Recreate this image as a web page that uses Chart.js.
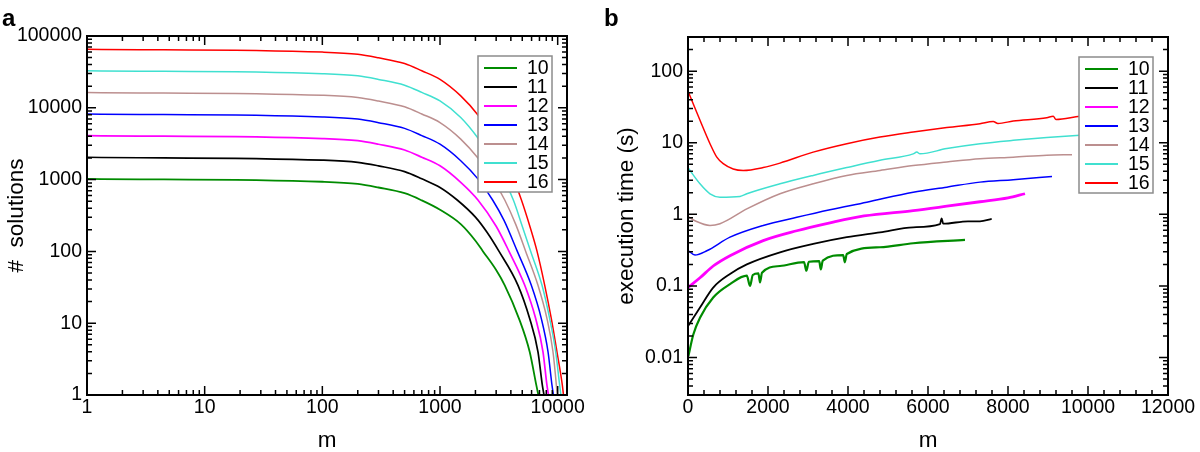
<!DOCTYPE html>
<html>
<head>
<meta charset="utf-8">
<script src="https://cdn.jsdelivr.net/npm/chart.js@4.4.1/dist/chart.umd.min.js"></script>
<style>
html,body{margin:0;padding:0;background:#fff;}
#wrap{position:relative;width:1200px;height:452px;overflow:hidden;}
.pane{position:absolute;top:0;width:600px;height:452px;}
canvas{display:block;}
</style>
</head>
<body>
<div id="wrap">
  <div class="pane" style="left:0"><canvas id="chartA" width="600" height="452"></canvas></div>
  <div class="pane" style="left:600px"><canvas id="chartB" width="600" height="452"></canvas></div>
</div>
<script>
// ---------- series labels & colours ----------
const seriesLabels = ['10', '11', '12', '13', '14', '15', '16'];
const seriesColors = ['#008b00', '#000000', '#ff00ff', '#0000ff', '#bc8f8f', '#40e0d0', '#ff0000'];

// ---------- panel a : number of solutions vs m ----------
const solM10 = [1, 100, 200, 300, 500, 700, 1000, 1500, 2000, 2320, 3000, 3550, 4690, 5780, 6590, 6850];
const solN10 = [1024, 933, 871, 776, 646, 513, 380, 240, 141, 100, 55, 33.7, 11.6, 4, 1.36, 1];
const solM11 = [1, 100, 200, 300, 500, 700, 1000, 1400, 2000, 2500, 3175, 4600, 5780, 6800, 7410, 7650];
const solN11 = [2048, 1867, 1742, 1553, 1291, 1026, 778, 520, 300, 186, 100, 33.7, 11.6, 4, 1.36, 1];
const solM12 = [1, 100, 200, 300, 500, 700, 1000, 1500, 2100, 3000, 3860, 5250, 6500, 7500, 8110, 8350];
const solN12 = [4096, 3733, 3484, 3105, 2582, 2051, 1556, 916, 520, 224, 100, 33.7, 11.6, 4, 1.36, 1];
const solM13 = [1, 100, 200, 300, 500, 700, 1000, 1500, 2100, 2800, 3500, 4540, 5970, 7260, 8280, 8950, 9200];
const solN13 = [8192, 7464, 6966, 6209, 5164, 4102, 3111, 1832, 1023, 520, 270, 100, 33.7, 11.6, 4, 1.36, 1];
const solM14 = [1, 100, 200, 300, 500, 700, 1000, 1500, 2100, 2800, 3550, 4400, 5350, 6800, 8110, 9120, 9750, 9900];
const solN14 = [16384, 14930, 13930, 12420, 10330, 8200, 6220, 3664, 1995, 1023, 520, 238, 100, 33.7, 11.6, 4, 1.36, 1];
const solM15 = [1, 100, 200, 300, 500, 700, 1000, 1500, 2100, 3000, 4200, 5000, 5900, 7360, 8550, 9620, 10400, 10650];
const solN15 = [32768, 29850, 27860, 24830, 20650, 16400, 12450, 7330, 3800, 1585, 520, 224, 100, 33.7, 11.6, 4, 1.36, 1];
const solM16 = [1, 100, 200, 300, 500, 700, 1000, 1500, 2100, 3000, 4000, 4920, 5800, 6680, 7760, 8830, 9860, 10960, 11200];
const solN16 = [65536, 59700, 55700, 49660, 41300, 32800, 24900, 14660, 7943, 3311, 1259, 520, 224, 100, 33.7, 11.6, 4, 1.36, 1];

const solXTicks = [1, 10, 100, 1000, 10000];
const solYTicks = [1, 10, 100, 1000, 10000, 100000];

// ---------- panel b : execution time vs m ----------
const timeM10 = [10, 133, 300, 630, 1050, 1470, 1550, 1620, 1760, 1800, 1850, 2300, 2900, 2960, 3020, 3280, 3320, 3370, 3880, 3920, 3970, 4800, 5630, 6925];
const timeT10 = [0.0105, 0.021, 0.036, 0.069, 0.106, 0.139, 0.10, 0.142, 0.15, 0.112, 0.153, 0.19, 0.215, 0.163, 0.218, 0.222, 0.17, 0.226, 0.27, 0.214, 0.28, 0.347, 0.395, 0.44];
const timeM11 = [10, 300, 630, 1050, 1470, 2300, 3130, 3970, 4800, 5630, 6300, 6340, 6380, 7000, 7300, 7592];
const timeT11 = [0.028, 0.05, 0.095, 0.147, 0.2, 0.295, 0.386, 0.48, 0.56, 0.66, 0.73, 0.88, 0.74, 0.8, 0.8, 0.865];
const timeM12 = [10, 300, 630, 1050, 1880, 2720, 3550, 4400, 5630, 6470, 7300, 8000, 8425];
const timeT12 = [0.096, 0.13, 0.19, 0.265, 0.43, 0.59, 0.76, 0.95, 1.13, 1.3, 1.5, 1.7, 1.94];
const timeM13 = [10, 175, 470, 1050, 1880, 2720, 3550, 4470, 5630, 6470, 7300, 8130, 9100];
const timeT13 = [0.31, 0.27, 0.31, 0.48, 0.70, 0.91, 1.16, 1.48, 2.04, 2.4, 2.82, 3.04, 3.39];
const timeM14 = [10, 200, 550, 800, 1470, 2300, 3130, 3970, 4800, 5630, 6470, 7300, 8130, 8970, 9600];
const timeT14 = [0.93, 0.8, 0.70, 0.74, 1.19, 1.94, 2.67, 3.5, 4.1, 4.8, 5.4, 6.0, 6.3, 6.7, 6.8];
const timeM15 = [10, 300, 550, 800, 1300, 1470, 2300, 3130, 3970, 4800, 5630, 5720, 5800, 6470, 7300, 8130, 8970, 9800, 10400];
const timeT15 = [4.4, 2.67, 1.94, 1.74, 1.78, 1.94, 2.67, 3.5, 4.5, 5.7, 7.0, 7.4, 7.0, 8.3, 9.7, 10.8, 11.8, 12.7, 13.3];
const timeM16 = [10, 300, 550, 720, 880, 1130, 1380, 1880, 2300, 3130, 3970, 4800, 5630, 6470, 7300, 7630, 7750, 8130, 8970, 9130, 9200, 9800, 10500, 11000];
const timeT16 = [51, 20.6, 9.7, 6.3, 5.1, 4.3, 4.1, 4.5, 5.2, 7.4, 9.7, 12, 14.1, 16.3, 18.5, 19.8, 18.6, 20.1, 22.4, 23.5, 21.2, 23.5, 25, 26];

const timeXTicks = [0, 2000, 4000, 6000, 8000, 10000, 12000];
const timeYTicks = [0.01, 0.1, 1, 10, 100];

// ---------- helpers ----------
const FONT = "'Liberation Sans', Arial, Helvetica, sans-serif";

function buildDatasets(mArrs, vArrs, widths) {
  return seriesLabels.map((lab, i) => ({
    label: lab,
    data: mArrs[i].map((m, j) => ({ x: m, y: vArrs[i][j] })),
    borderColor: seriesColors[i],
    backgroundColor: seriesColors[i],
    borderWidth: widths[i],
    pointRadius: 0,
    pointHoverRadius: 0,
    fill: false,
    cubicInterpolationMode: 'monotone'
  }));
}

function logMarks(min, max) {
  const out = [];
  for (let e = Math.floor(Math.log10(min)); e <= Math.ceil(Math.log10(max)); e++) {
    for (let d = 1; d < 10; d++) {
      const v = d * Math.pow(10, e);
      if (v >= min * 0.9999 && v <= max * 1.0001) out.push({ v, major: d === 1 });
    }
  }
  return out;
}
function linMarks(min, max, step, majorStep) {
  const out = [];
  for (let k = 0; min + k * step <= max + 1e-9; k++) {
    const v = min + k * step;
    out.push({ v, major: Math.abs(v / majorStep - Math.round(v / majorStep)) < 1e-9 });
  }
  return out;
}

const frameTicks = {
  id: 'frameTicks',
  afterDatasetsDraw(chart, args, opts) {
    const { ctx, chartArea: a, scales } = chart;
    ctx.save();
    ctx.strokeStyle = '#000';
    ctx.lineWidth = 1.5;
    ctx.beginPath();
    opts.xMarks.forEach(t => {
      const p = scales.x.getPixelForValue(t.v);
      if (p <= a.left + 1 || p >= a.right - 1) return;
      const len = t.major ? 9 : 5;
      ctx.moveTo(p, a.bottom); ctx.lineTo(p, a.bottom - len);
      ctx.moveTo(p, a.top); ctx.lineTo(p, a.top + len);
    });
    opts.yMarks.forEach(t => {
      const p = scales.y.getPixelForValue(t.v);
      if (p <= a.top + 1 || p >= a.bottom - 1) return;
      const len = t.major ? 9 : 5;
      ctx.moveTo(a.left, p); ctx.lineTo(a.left + len, p);
      ctx.moveTo(a.right, p); ctx.lineTo(a.right - len, p);
    });
    ctx.stroke();
    ctx.lineWidth = 2;
    ctx.strokeRect(a.left, a.top, a.right - a.left, a.bottom - a.top);
    ctx.restore();
  }
};

const legendBox = {
  id: 'legendBox',
  afterDatasetsDraw(chart) {
    const { ctx, chartArea: a } = chart;
    const x0 = a.right - 89, y0 = a.top + 20, w = 74, h = 136;
    ctx.save();
    ctx.fillStyle = '#fff';
    ctx.fillRect(x0, y0, w, h);
    ctx.strokeStyle = '#8c8c8c';
    ctx.lineWidth = 1.5;
    ctx.strokeRect(x0, y0, w, h);
    ctx.font = '19.5px ' + FONT;
    ctx.textBaseline = 'middle';
    ctx.textAlign = 'left';
    chart.data.datasets.forEach((ds, i) => {
      const yy = y0 + 12 + i * 19;
      ctx.strokeStyle = ds.borderColor;
      ctx.lineWidth = 2;
      ctx.beginPath();
      ctx.moveTo(x0 + 6, yy); ctx.lineTo(x0 + 39, yy);
      ctx.stroke();
      ctx.fillStyle = '#000';
      ctx.fillText(ds.label, x0 + 49, yy + 0.5);
    });
    ctx.restore();
  }
};

const panelLabel = {
  id: 'panelLabel',
  afterDraw(chart, args, opts) {
    const ctx = chart.ctx;
    ctx.save();
    ctx.font = 'bold 24px ' + FONT;
    ctx.fillStyle = '#000';
    ctx.textBaseline = 'alphabetic';
    ctx.textAlign = 'left';
    ctx.fillText(opts.text, opts.x, 26);
    ctx.restore();
  }
};

function makeOptions(cfg) {
  const tickFont = { family: FONT, size: 19.5 };
  const titleFont = { family: FONT, size: 22.5, lineHeight: 1 };
  return {
    responsive: false,
    animation: false,
    devicePixelRatio: 1,
    events: [],
    layout: { padding: { left: 0, top: cfg.top, right: cfg.right, bottom: 0 } },
    plugins: {
      legend: { display: false },
      tooltip: { enabled: false },
      frameTicks: { xMarks: cfg.xMarks, yMarks: cfg.yMarks },
      panelLabel: { text: cfg.panel, x: cfg.panelX }
    },
    scales: {
      x: {
        type: cfg.xType, min: cfg.xMin, max: cfg.xMax,
        afterFit: s => { s.height = cfg.xHeight; },
        afterBuildTicks: s => { s.ticks = cfg.xTicks.map(v => ({ value: v })); },
        ticks: { autoSkip: false, maxRotation: 0, minRotation: 0, padding: 1, color: '#000', font: tickFont, callback: v => String(v) },
        grid: { display: false, drawTicks: false },
        border: { display: false },
        title: { display: true, text: 'm', color: '#000', font: titleFont, padding: { top: 0, bottom: 0 } }
      },
      y: {
        type: 'logarithmic', min: cfg.yMin, max: cfg.yMax,
        afterFit: s => { s.width = cfg.yWidth; },
        afterBuildTicks: s => { s.ticks = cfg.yTicks.map(v => ({ value: v })); },
        ticks: { autoSkip: false, padding: 5, color: '#000', font: tickFont, callback: v => String(v) },
        grid: { display: false, drawTicks: false },
        border: { display: false },
        title: { display: true, text: cfg.yTitle, color: '#000', font: titleFont, padding: { top: cfg.yTitlePad, bottom: 0 } }
      }
    }
  };
}

// ---------- chart a ----------
new Chart(document.getElementById('chartA'), {
  type: 'line',
  data: {
    datasets: buildDatasets(
      [solM10, solM11, solM12, solM13, solM14, solM15, solM16],
      [solN10, solN11, solN12, solN13, solN14, solN15, solN16],
      [1.8, 1.7, 1.7, 1.5, 1.5, 1.5, 1.5])
  },
  options: makeOptions({
    top: 36, right: 33, xHeight: 57, yWidth: 87,
    xType: 'logarithmic', xMin: 1, xMax: 12000, xTicks: solXTicks,
    yMin: 1, yMax: 100000, yTicks: solYTicks,
    xMarks: logMarks(1, 12000), yMarks: logMarks(1, 100000),
    yTitle: '#  solutions', yTitlePad: 6,
    panel: 'a', panelX: 2
  }),
  plugins: [frameTicks, legendBox, panelLabel]
});

// ---------- chart b ----------
new Chart(document.getElementById('chartB'), {
  type: 'line',
  data: {
    datasets: buildDatasets(
      [timeM10, timeM11, timeM12, timeM13, timeM14, timeM15, timeM16],
      [timeT10, timeT11, timeT12, timeT13, timeT14, timeT15, timeT16],
      [2.2, 1.8, 2.8, 1.5, 1.5, 1.5, 1.5])
  },
  options: makeOptions({
    top: 37, right: 32, xHeight: 57, yWidth: 88,
    xType: 'linear', xMin: 0, xMax: 12000, xTicks: timeXTicks,
    yMin: 0.003, yMax: 300, yTicks: timeYTicks,
    xMarks: linMarks(0, 12000, 400, 2000), yMarks: logMarks(0.003, 300),
    yTitle: 'execution time (s)', yTitlePad: 16,
    panel: 'b', panelX: 4
  }),
  plugins: [frameTicks, legendBox, panelLabel]
});
</script>
</body>
</html>
